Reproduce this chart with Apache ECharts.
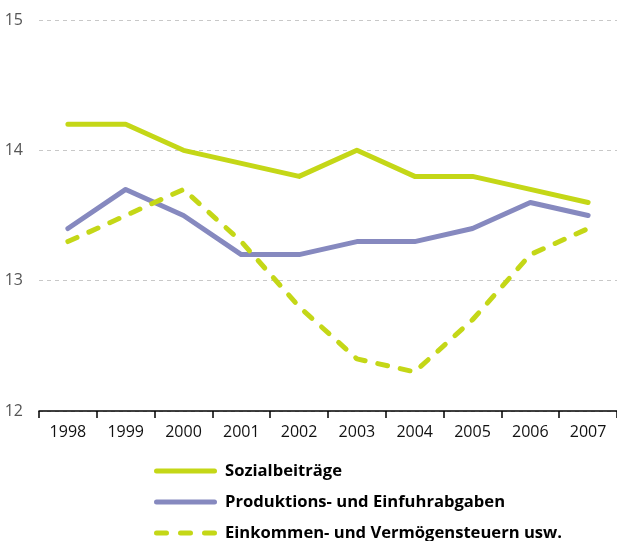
<!DOCTYPE html>
<html>
<head>
<meta charset="utf-8">
<script src="https://cdn.jsdelivr.net/npm/echarts@6/dist/echarts.min.js"></script>
<style>
  html, body { margin: 0; padding: 0; background: #fff; }
  #chart { width: 617px; height: 541px; }
</style>
</head>
<body>
<div id="chart"></div>
<script>
// Jahre auf der x-Achse
const years = ['1998', '1999', '2000', '2001', '2002', '2003', '2004', '2005', '2006', '2007'];

// Anteile in %
const sozialbeitraege = [14.2, 14.2, 14.0, 13.9, 13.8, 14.0, 13.8, 13.8, 13.7, 13.6];
const produktionsabgaben = [13.4, 13.7, 13.5, 13.2, 13.2, 13.3, 13.3, 13.4, 13.6, 13.5];
const einkommensteuern = [13.3, 13.5, 13.7, 13.3, 12.8, 12.4, 12.3, 12.7, 13.2, 13.4];

const seriesNames = ['Sozialbeiträge', 'Produktions- und Einfuhrabgaben', 'Einkommen- und Vermögensteuern usw.'];

const green = '#c4d717';
const purple = '#8689bf';
const font = 'Open Sans';

// Legendensymbole: durchgehender bzw. gestrichelter Balken mit runden Enden
const solidIcon = 'path://M2.5,0H60.5A2.5,2.5,0,0,1,60.5,5H2.5A2.5,2.5,0,0,1,2.5,0Z';
const dashedIcon = 'path://M2.5,0H12.5A2.5,2.5,0,0,1,12.5,5H2.5A2.5,2.5,0,0,1,2.5,0Z' +
  'M26.5,0H36.5A2.5,2.5,0,0,1,36.5,5H26.5A2.5,2.5,0,0,1,26.5,0Z' +
  'M50.5,0H60.5A2.5,2.5,0,0,1,60.5,5H50.5A2.5,2.5,0,0,1,50.5,0Z';

const chart = echarts.init(document.getElementById('chart'), null, { renderer: 'canvas' });

chart.setOption({
  animation: false,
  textStyle: { fontFamily: font },
  grid: { left: 39, right: 0, top: 20, bottom: 130, containLabel: false },
  legend: {
    orient: 'vertical',
    left: 154,
    top: 461,
    height: 100,
    padding: 0,
    itemWidth: 63,
    itemHeight: 5,
    itemGap: 11,
    data: [
      { name: seriesNames[0], icon: solidIcon },
      { name: seriesNames[1], icon: solidIcon },
      { name: seriesNames[2], icon: dashedIcon }
    ],
    textStyle: {
      fontFamily: font, fontSize: 16.6, fontWeight: 'bold', color: '#000',
      lineHeight: 20, padding: [0, 0, 0, 3]
    }
  },
  xAxis: {
    type: 'category',
    data: years,
    boundaryGap: true,
    axisLine: { lineStyle: { color: '#000', width: 1.5 } },
    axisTick: { show: true, length: 7, lineStyle: { color: '#000', width: 1.5 } },
    axisLabel: { color: '#111', fontSize: 16, margin: 13, fontFamily: font }
  },
  yAxis: {
    type: 'value',
    min: 12,
    max: 15,
    interval: 1,
    axisLine: { show: false },
    axisTick: { show: false },
    axisLabel: { color: '#555', fontSize: 16, margin: 16, fontFamily: font },
    splitLine: { lineStyle: { color: '#c8c8c8', type: [4, 4], width: 1 } }
  },
  series: [
    {
      name: seriesNames[0],
      type: 'line',
      data: sozialbeitraege,
      symbol: 'none',
      lineStyle: { color: green, width: 5, cap: 'round', join: 'round' },
      itemStyle: { color: green }
    },
    {
      name: seriesNames[1],
      type: 'line',
      data: produktionsabgaben,
      symbol: 'none',
      lineStyle: { color: purple, width: 5, cap: 'round', join: 'round' },
      itemStyle: { color: purple }
    },
    {
      name: seriesNames[2],
      type: 'line',
      data: einkommensteuern,
      symbol: 'none',
      lineStyle: { color: green, width: 5, type: [10, 13], cap: 'round', join: 'round' },
      itemStyle: { color: green }
    }
  ]
});
</script>
</body>
</html>
